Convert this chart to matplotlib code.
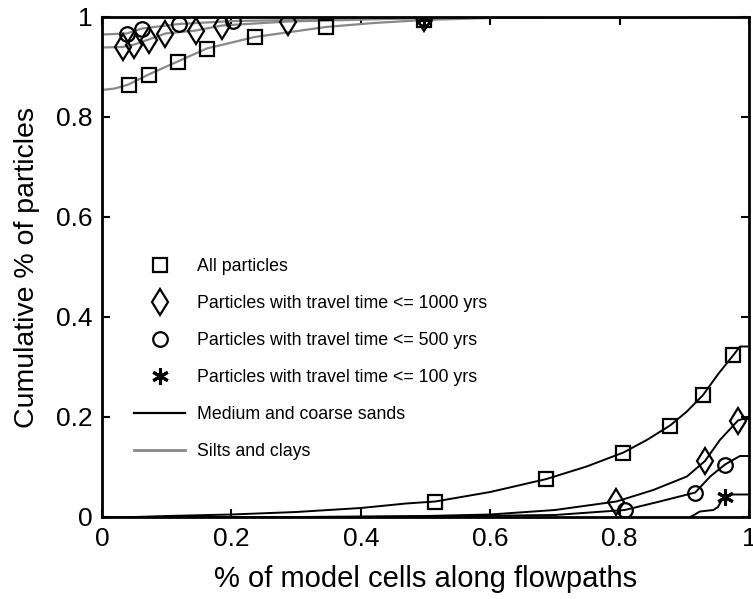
import matplotlib
matplotlib.use("Agg")
import matplotlib.pyplot as plt
from matplotlib.lines import Line2D

# cumulative curves, medium and coarse sands (black)
sand_all_x = [0.0, 0.05, 0.1, 0.2, 0.3, 0.4, 0.47, 0.515, 0.6, 0.687, 0.749, 0.806,
              0.842, 0.878, 0.904, 0.929, 0.953, 0.976, 0.986, 1.0]
sand_all_y = [0.0, 0.0, 0.002, 0.005, 0.01, 0.018, 0.027, 0.031, 0.05, 0.076, 0.101, 0.129,
              0.154, 0.183, 0.211, 0.244, 0.287, 0.324, 0.341, 0.341]
sand_1000_x = [0.0, 0.3, 0.5, 0.6, 0.7, 0.795, 0.852, 0.904, 0.932, 0.955, 0.983, 0.99, 1.0]
sand_1000_y = [0.0, 0.0, 0.002, 0.005, 0.014, 0.031, 0.054, 0.081, 0.112, 0.154, 0.193, 0.196, 0.196]
sand_500_x = [0.0, 0.4, 0.5, 0.7, 0.808, 0.862, 0.917, 0.94, 0.963, 0.986, 1.0]
sand_500_y = [0.0, 0.0, 0.001, 0.004, 0.014, 0.031, 0.049, 0.081, 0.105, 0.122, 0.122]
sand_100_x = [0.909, 0.915, 0.924, 0.945, 0.952, 0.958, 0.963, 0.973, 1.0]
sand_100_y = [0.0, 0.004, 0.011, 0.014, 0.02, 0.034, 0.041, 0.045, 0.045]

# marker positions on the sand curves
sand_all_mx = [0.515, 0.687, 0.806, 0.878, 0.929, 0.976]
sand_all_my = [0.031, 0.076, 0.129, 0.183, 0.244, 0.324]
sand_1000_mx = [0.795, 0.932, 0.983]
sand_1000_my = [0.031, 0.112, 0.193]
sand_500_mx = [0.808, 0.917, 0.963]
sand_500_my = [0.014, 0.049, 0.105]
sand_100_mx = [0.963]
sand_100_my = [0.041]

# cumulative curves, silts and clays (gray)
silt_all_x = [0.0, 0.02, 0.041, 0.072, 0.117, 0.162, 0.236, 0.346, 0.42, 0.498, 0.6, 0.8, 1.0]
silt_all_y = [0.854, 0.857, 0.865, 0.885, 0.911, 0.937, 0.96, 0.98, 0.988, 0.994, 0.998, 1.0, 1.0]
silt_1000_x = [0.0, 0.032, 0.05, 0.072, 0.098, 0.145, 0.186, 0.287, 0.498, 1.0]
silt_1000_y = [0.939, 0.94, 0.945, 0.955, 0.967, 0.973, 0.983, 0.991, 0.998, 1.0]
silt_500_x = [0.0, 0.038, 0.062, 0.119, 0.203, 0.498, 1.0]
silt_500_y = [0.965, 0.967, 0.977, 0.986, 0.992, 0.998, 1.0]
silt_100_x = [0.0, 1.0]
silt_100_y = [1.0, 1.0]

silt_all_mx = [0.041, 0.072, 0.117, 0.162, 0.236, 0.346, 0.498]
silt_all_my = [0.865, 0.885, 0.911, 0.937, 0.96, 0.98, 0.994]
silt_1000_mx = [0.032, 0.05, 0.072, 0.098, 0.145, 0.186, 0.287, 0.498]
silt_1000_my = [0.94, 0.945, 0.955, 0.967, 0.973, 0.983, 0.991, 0.998]
silt_500_mx = [0.038, 0.062, 0.119, 0.203, 0.498]
silt_500_my = [0.967, 0.977, 0.986, 0.992, 0.998]
silt_100_mx = [0.498]
silt_100_my = [0.999]

tick_vals = [0, 0.2, 0.4, 0.6, 0.8, 1]
tick_labels = ["0", "0.2", "0.4", "0.6", "0.8", "1"]

legend_labels = ["All particles",
                 "Particles with travel time <= 1000 yrs",
                 "Particles with travel time <= 500 yrs",
                 "Particles with travel time <= 100 yrs",
                 "Medium and coarse sands",
                 "Silts and clays"]

plt.rcParams["font.family"] = ["Liberation Sans", "DejaVu Sans"]

GRAY = "#888888"
mk = dict(linestyle="none", markerfacecolor="none", markeredgecolor="black", markeredgewidth=1.6)
sq = dict(marker="s", markersize=10)
dm = dict(marker="d", markersize=13.5)
ci = dict(marker="o", markersize=10.5)
st_kw = dict(mk, marker=(6, 2, 0), markersize=12, markeredgewidth=2.2)

fig = plt.figure(figsize=(7.53, 5.99), dpi=100)
ax = fig.add_axes([102 / 753, 82 / 599, 647 / 753, 500 / 599])

for xs, ys in [(sand_all_x, sand_all_y), (sand_1000_x, sand_1000_y),
               (sand_500_x, sand_500_y), (sand_100_x, sand_100_y)]:
    ax.plot(xs, ys, color="black", lw=1.4)
for xs, ys in [(silt_all_x, silt_all_y), (silt_1000_x, silt_1000_y),
               (silt_500_x, silt_500_y), (silt_100_x, silt_100_y)]:
    ax.plot(xs, ys, color=GRAY, lw=1.6)

ax.plot(sand_all_mx, sand_all_my, **mk, **sq)
ax.plot(silt_all_mx, silt_all_my, **mk, **sq)
ax.plot(sand_1000_mx, sand_1000_my, **mk, **dm)
ax.plot(silt_1000_mx, silt_1000_my, **mk, **dm)
ax.plot(sand_500_mx, sand_500_my, **mk, **ci)
ax.plot(silt_500_mx, silt_500_my, **mk, **ci)
ax.plot(sand_100_mx, sand_100_my, **st_kw)
ax.plot(silt_100_mx, silt_100_my, **st_kw)

ax.set_xlim(0, 1)
ax.set_ylim(0, 1)
ax.set_xticks(tick_vals)
ax.set_xticklabels(tick_labels, fontsize=19)
ax.set_yticks(tick_vals)
ax.set_yticklabels(tick_labels, fontsize=19)
ax.tick_params(direction="in", length=6, width=1.5, top=True, right=True, pad=7)
for sp in ax.spines.values():
    sp.set_linewidth(2)

ax.set_xlabel("% of model cells along flowpaths", fontsize=21, labelpad=10)
ax.set_ylabel("Cumulative % of particles", fontsize=20.5, labelpad=11)

handles = [
    Line2D([], [], **mk, **sq),
    Line2D([], [], **mk, **dm),
    Line2D([], [], **mk, **ci),
    Line2D([], [], **st_kw),
    Line2D([], [], color="black", lw=1.6),
    Line2D([], [], color=GRAY, lw=2),
]
ax.legend(handles, legend_labels, loc="upper left", bbox_to_anchor=(0.036, 0.535),
          frameon=False, fontsize=12.8, labelspacing=1.12, handlelength=2.85,
          handletextpad=0.7, borderpad=0)

fig.savefig("out.png", dpi=100)
